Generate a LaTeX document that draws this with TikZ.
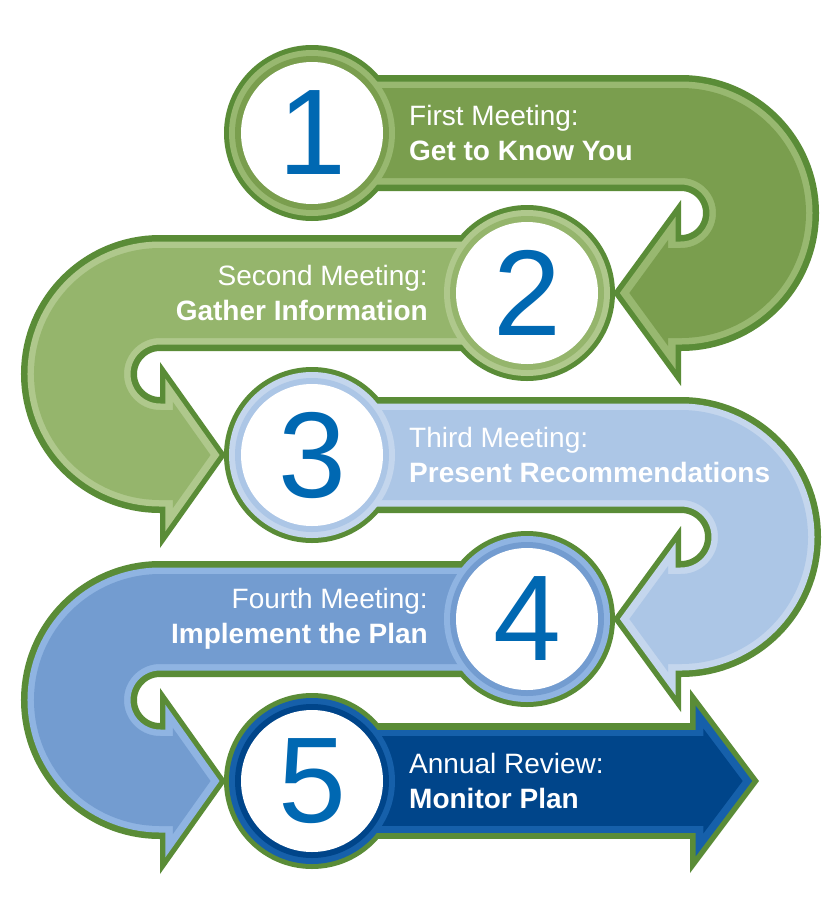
\documentclass[tikz,border=0pt]{standalone}
\usepackage{fontspec}
\setmainfont{Liberation Sans}
\usepackage{xcolor}
\usepackage{tikz}
\usetikzlibrary{calc}

\definecolor{rim}{RGB}{90,140,55}
\definecolor{oliveA}{RGB}{122,158,78}
\definecolor{oliveB}{RGB}{152,184,112}
\definecolor{sageA}{RGB}{149,181,108}
\definecolor{sageB}{RGB}{175,200,140}
\definecolor{skyA}{RGB}{172,198,230}
\definecolor{skyB}{RGB}{196,214,237}
\definecolor{blueA}{RGB}{115,156,208}
\definecolor{blueB}{RGB}{143,180,226}
\definecolor{navyA}{RGB}{0,69,138}
\definecolor{navyB}{RGB}{22,96,170}
\definecolor{digit}{RGB}{0,104,178}

\begin{document}
\begin{tikzpicture}[x=1pt, y=-1pt,
    num/.style={text=digit, font=\fontsize{122}{122}\selectfont, inner sep=0pt},
    caption/.style={text=white, font=\fontsize{28}{35}\selectfont, inner sep=0pt},
  ]

  \fill[white] (0,0) rectangle (840,919);
  \useasboundingbox (0,0) rectangle (840,919);

  % Circle centres
  \coordinate (c1) at (312,133);
  \coordinate (c2) at (527,293);
  \coordinate (c3) at (312,455);
  \coordinate (c4) at (527,619);
  \coordinate (c5) at (312,781);

  % Arrowheads: top barb, tip, bottom barb, centre
  \coordinate (a1) at (681,200); \coordinate (p1) at (613,293);
  \coordinate (b1) at (681,386); \coordinate (i1) at (651,293);
  \coordinate (a2) at (160,362); \coordinate (p2) at (226,455);
  \coordinate (b2) at (160,548); \coordinate (i2) at (190,455);
  \coordinate (a3) at (681,526); \coordinate (p3) at (613,619);
  \coordinate (b3) at (681,712); \coordinate (i3) at (651,619);
  \coordinate (a4) at (160,688); \coordinate (p4) at (226,781);
  \coordinate (b4) at (160,874); \coordinate (i4) at (190,781);
  \coordinate (a5) at (690,689); \coordinate (p5) at (759,781);
  \coordinate (b5) at (690,873); \coordinate (i5) at (721,781);

  % First meeting
  \fill[rim] (c1) circle[radius=88];
  \foreach \w/\k/\col in {116pt/1/rim, 103pt/0.82/oliveB, 90pt/0.57/oliveA} {
    \draw[draw=\col, line width=\w] (c1) -- (681,133)
      arc[start angle=-90, end angle=90, radius=80] -- ++(-15,0);
    \fill[fill=\col] ($(i1)!\k!(a1)$) -- ($(i1)!\k!(p1)$) -- ($(i1)!\k!(b1)$) -- cycle;
  }
  \fill[oliveB] (c1) circle[radius=83];
  \fill[oliveA] (c1) circle[radius=77];
  \fill[white] (c1) circle[radius=71];
  \node[num] (n1) at (c1) {1};
  \node[caption, anchor=west, align=left] (t1) at (409,133)
    {First Meeting:\\\textbf{Get to Know You}};

  % Second meeting
  \fill[rim] (c2) circle[radius=88];
  \foreach \w/\k/\col in {116pt/1/rim, 103pt/0.82/sageB, 90pt/0.57/sageA} {
    \draw[draw=\col, line width=\w] (c2) -- (160,293)
      arc[start angle=270, end angle=90, radius=81] -- ++(15,0);
    \fill[fill=\col] ($(i2)!\k!(a2)$) -- ($(i2)!\k!(p2)$) -- ($(i2)!\k!(b2)$) -- cycle;
  }
  \fill[sageB] (c2) circle[radius=83];
  \fill[sageA] (c2) circle[radius=77];
  \fill[white] (c2) circle[radius=71];
  \node[num] (n2) at (c2) {2};
  \node[caption, anchor=east, align=right] (t2) at (428,293)
    {Second Meeting:\\\textbf{Gather Information}};

  % Third meeting
  \fill[rim] (c3) circle[radius=88];
  \foreach \w/\k/\col in {116pt/1/rim, 103pt/0.82/skyB, 90pt/0.57/skyA} {
    \draw[draw=\col, line width=\w] (c3) -- (681,455)
      arc[start angle=-90, end angle=90, radius=82] -- ++(-15,0);
    \fill[fill=\col] ($(i3)!\k!(a3)$) -- ($(i3)!\k!(p3)$) -- ($(i3)!\k!(b3)$) -- cycle;
  }
  \fill[skyB] (c3) circle[radius=83];
  \fill[skyA] (c3) circle[radius=77];
  \fill[white] (c3) circle[radius=71];
  \node[num] (n3) at (c3) {3};
  \node[caption, anchor=west, align=left] (t3) at (409,455)
    {Third Meeting:\\\textbf{Present Recommendations}};

  % Fourth meeting
  \fill[rim] (c4) circle[radius=88];
  \foreach \w/\k/\col in {116pt/1/rim, 103pt/0.82/blueB, 90pt/0.57/blueA} {
    \draw[draw=\col, line width=\w] (c4) -- (160,619)
      arc[start angle=270, end angle=90, radius=81] -- ++(15,0);
    \fill[fill=\col] ($(i4)!\k!(a4)$) -- ($(i4)!\k!(p4)$) -- ($(i4)!\k!(b4)$) -- cycle;
  }
  \fill[blueB] (c4) circle[radius=83];
  \fill[blueA] (c4) circle[radius=77];
  \fill[white] (c4) circle[radius=71];
  \node[num] (n4) at (c4) {4};
  \node[caption, anchor=east, align=right] (t4) at (428,619)
    {Fourth Meeting:\\\textbf{Implement the Plan}};

  % Annual review
  \fill[rim] (c5) circle[radius=88];
  \foreach \w/\k/\col in {116pt/1/rim, 103pt/0.82/navyB, 90pt/0.57/navyA} {
    \draw[draw=\col, line width=\w] (c5) -- (690,781) -- ++(15,0);
    \fill[fill=\col] ($(i5)!\k!(a5)$) -- ($(i5)!\k!(p5)$) -- ($(i5)!\k!(b5)$) -- cycle;
  }
  \fill[navyB] (c5) circle[radius=83];
  \fill[navyA] (c5) circle[radius=77];
  \fill[white] (c5) circle[radius=71];
  \node[num] (n5) at (c5) {5};
  \node[caption, anchor=west, align=left] (t5) at (409,781)
    {Annual Review:\\\textbf{Monitor Plan}};

\end{tikzpicture}
\end{document}
